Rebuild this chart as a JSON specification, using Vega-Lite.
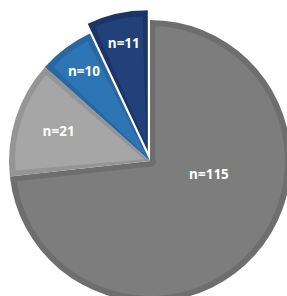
{
  "$schema": "https://vega.github.io/schema/vega-lite/v6.json",
  "width": 300,
  "height": 322,
  "autosize": {"type": "none"},
  "padding": 0,
  "background": "white",
  "config": {"view": {"stroke": null}},
  "data": {"values": [
    {"k": 1, "label": "n=115", "n": 115},
    {"k": 2, "label": "n=21", "n": 21},
    {"k": 3, "label": "n=10", "n": 10},
    {"k": 4, "label": "n=11", "n": 11}
  ]},
  "encoding": {
    "theta": {"field": "n", "type": "quantitative", "stack": true},
    "order": {"field": "k", "type": "quantitative"}
  },
  "layer": [
    {
      "mark": {"type": "arc", "outerRadius": 141},
      "encoding": {
        "color": {"field": "label", "type": "nominal", "legend": null,
          "scale": {"domain": ["n=115", "n=21", "n=10", "n=11"], "range": ["#6e6e6e", "#959595", "#2967a0", "#1d3566"]}},
        "opacity": {"condition": {"test": "datum.k == 4", "value": 0}, "value": 1}
      }
    },
    {
      "mark": {"type": "arc", "outerRadius": 135, "innerRadius": 6, "padAngle": 0.08},
      "encoding": {
        "fill": {"field": "label", "type": "nominal", "legend": null,
          "scale": {"domain": ["n=115", "n=21", "n=10", "n=11"], "range": ["#7d7d7d", "#a6a6a6", "#2e75b6", "#22417a"]}},
        "opacity": {"condition": {"test": "datum.k == 4", "value": 0}, "value": 1}
      }
    },
    {
      "mark": {"type": "arc", "outerRadius": 141, "xOffset": -2.2, "yOffset": -9.8},
      "encoding": {
        "color": {"field": "label", "type": "nominal", "legend": null},
        "opacity": {"condition": {"test": "datum.k == 4", "value": 1}, "value": 0}
      }
    },
    {
      "mark": {"type": "arc", "outerRadius": 135, "innerRadius": 6, "padAngle": 0.08, "xOffset": -2.2, "yOffset": -9.8},
      "encoding": {
        "fill": {"field": "label", "type": "nominal", "legend": null},
        "opacity": {"condition": {"test": "datum.k == 4", "value": 1}, "value": 0}
      }
    },
    {
      "mark": {"type": "text", "radius": 60.6, "thetaOffset": -0.496, "font": "Open Sans", "fontWeight": "bold", "fontSize": 13.5, "fill": "white", "baseline": "middle", "align": "center"},
      "encoding": {
        "text": {"field": "label"},
        "opacity": {"condition": {"test": "datum.k == 1", "value": 1}, "value": 0}
      }
    },
    {
      "mark": {"type": "text", "radius": 96, "font": "Open Sans", "fontWeight": "bold", "fontSize": 13.5, "fill": "white", "baseline": "middle", "align": "center"},
      "encoding": {
        "text": {"field": "label"},
        "opacity": {"condition": {"test": "datum.k == 2", "value": 1}, "value": 0}
      }
    },
    {
      "mark": {"type": "text", "radius": 110.5, "font": "Open Sans", "fontWeight": "bold", "fontSize": 13.5, "fill": "white", "baseline": "middle", "align": "center"},
      "encoding": {
        "text": {"field": "label"},
        "opacity": {"condition": {"test": "datum.k == 3", "value": 1}, "value": 0}
      }
    },
    {
      "mark": {"type": "text", "radius": 110, "dx": -2.2, "dy": -9.8, "font": "Open Sans", "fontWeight": "bold", "fontSize": 13.5, "fill": "white", "baseline": "middle", "align": "center"},
      "encoding": {
        "text": {"field": "label"},
        "opacity": {"condition": {"test": "datum.k == 4", "value": 1}, "value": 0}
      }
    }
  ]
}
